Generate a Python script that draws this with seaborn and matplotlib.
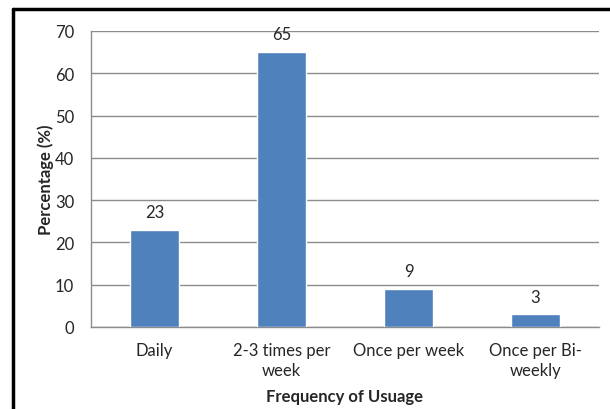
import matplotlib
matplotlib.use("Agg")
import matplotlib.pyplot as plt
import seaborn as sns
import pandas as pd
from matplotlib.lines import Line2D
from matplotlib.ticker import MultipleLocator, FixedLocator

# data
categories = ["Daily", "2-3 times per\nweek", "Once per week", "Once per Bi-\nweekly"]
percentages = [23, 65, 9, 3]

sns.set_style("white")
plt.rcParams['font.family'] = ['Lato', 'DejaVu Sans']

df = pd.DataFrame({"freq": categories, "pct": percentages})

fig = plt.figure(figsize=(6.1, 4.1), dpi=100)
ax = fig.add_axes([91 / 610, 1 - 328 / 410, 508 / 610, 296 / 410])

sns.barplot(data=df, x="freq", y="pct", color="#4F81BD", saturation=1,
            width=0.39, ax=ax, zorder=3)

ax.set_ylim(0, 70)
ax.set_xlim(-0.5, 3.5)
ax.yaxis.set_major_locator(MultipleLocator(10))
ax.grid(axis="y", color="#8c8c8c", linewidth=1, zorder=0)
ax.set_axisbelow(True)

# excel-ish spines
for s in ["top", "right"]:
    ax.spines[s].set_visible(False)
for s in ["left", "bottom"]:
    ax.spines[s].set_color("#8c8c8c")
    ax.spines[s].set_linewidth(1)

ax.tick_params(axis="y", length=5, color="#8c8c8c", labelsize=12, pad=7)
ax.tick_params(axis="x", which="major", length=0, labelsize=12, pad=11)
ax.xaxis.set_minor_locator(FixedLocator([-0.5, 0.5, 1.5, 2.5, 3.5]))
ax.tick_params(axis="x", which="minor", length=5, color="#8c8c8c")

for lbl in ax.get_xticklabels():
    lbl.set_linespacing(1.3)

for c in ax.containers:
    ax.bar_label(c, padding=7, fontsize=12)

ax.set_xlabel("Frequency of Usuage", fontsize=12, fontweight="bold", labelpad=7)
ax.set_ylabel("Percentage (%)", fontsize=12, fontweight="bold", labelpad=1)

# black frame around the chart (partly cut off)
fig.add_artist(Line2D([13 / 610, 13 / 610], [0, 1 - 10 / 410], color="black",
                      linewidth=2.5, transform=fig.transFigure))
fig.add_artist(Line2D([13 / 610, 1], [1 - 10 / 410, 1 - 10 / 410], color="black",
                      linewidth=2.5, transform=fig.transFigure))

fig.savefig("out.png", dpi=100)
